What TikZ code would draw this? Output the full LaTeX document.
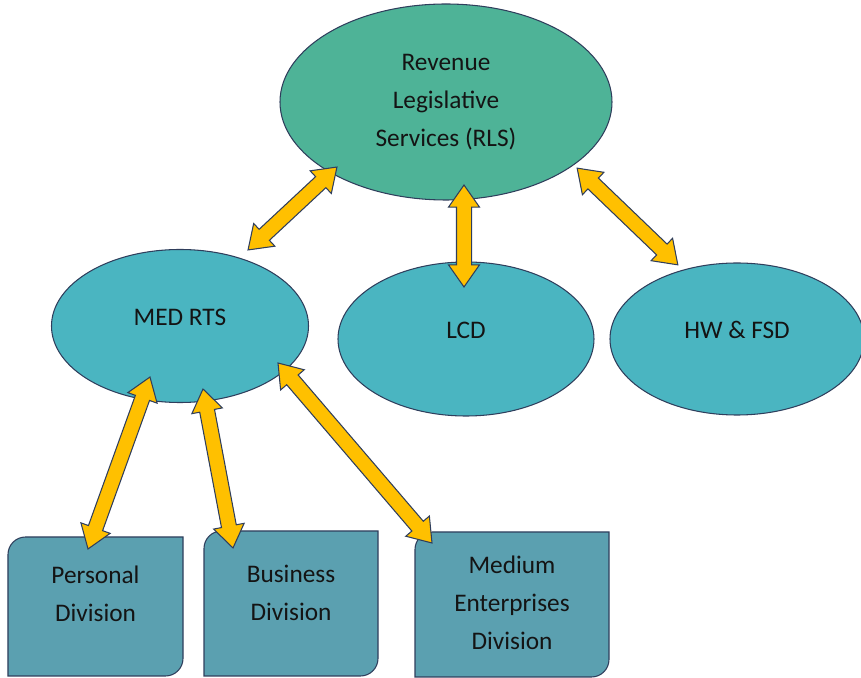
\documentclass[tikz,border=0pt]{standalone}
\usepackage{fontspec}
\setmainfont{Carlito}
\usetikzlibrary{positioning,calc,shapes.geometric,shapes.arrows,backgrounds}

\definecolor{rlsfill}{HTML}{4EB397}
\definecolor{unitfill}{HTML}{4AB5C1}
\definecolor{divfill}{HTML}{5BA0B0}
\definecolor{linkfill}{HTML}{FFC000}
\definecolor{edge}{HTML}{2F3E5C}
\definecolor{ink}{HTML}{141414}

\tikzset{
  unit/.style     = {ellipse, draw=edge, line width=0.6pt, align=center, text=ink},
  lowtext/.style  = {text height=9.5pt, text depth=10pt},
  division/.style = {rectangle, inner sep=0pt, outer sep=0pt},
  divtext/.style  = {align=center, text=ink},
  link/.style     = {double arrow, draw=edge, fill=linkfill, line width=0.6pt, inner xsep=0pt, inner ysep=0.14cm,
                     double arrow head extend=0.16cm, double arrow tip angle=70}
}

\newcommand{\cornerrad}{0.35cm}
% box with two rounded corners (top left, bottom right)
\newcommand{\divoutline}[1]{%
  \filldraw[fill=divfill, draw=edge, line width=0.6pt]
    ([yshift=-\cornerrad]#1.north west) arc[start angle=180, end angle=90, radius=\cornerrad]
    -- (#1.north east) -- ([yshift=\cornerrad]#1.south east)
    arc[start angle=0, end angle=-90, radius=\cornerrad] -- (#1.south west) -- cycle;}
% two headed block arrow between two points
\newcommand{\dblink}[2]{%
  \path let \p1=(#1), \p2=(#2),
            \n1={atan2(\y2-\y1,\x2-\x1)}, \n2={veclen(\x2-\x1,\y2-\y1)} in
    node[link, minimum height=\n2, rotate=\n1] at ($(\p1)!.5!(\p2)$) {};}

\begin{document}
\begin{tikzpicture}[on grid, font=\fontsize{14.4}{21.6}\selectfont]
 \useasboundingbox (0,0) rectangle (17.22,13.56);

 \node[unit,fill=rlsfill, minimum width=6.64cm,minimum height=3.92cm,name=RLS] at (8.92,11.52) {Revenue\\Legislative\\Services (RLS)};
 \node[unit,fill=unitfill,lowtext,minimum width=5.14cm,minimum height=3.06cm,name=MED,below left =4.48cm and 5.32cm of RLS] {MED RTS};
 \node[unit,fill=unitfill,lowtext,minimum width=5.12cm,minimum height=3.08cm,name=LCD,below      =4.74cm of RLS,xshift=0.4cm] {LCD};
 \node[unit,fill=unitfill,lowtext,minimum width=5.08cm,minimum height=3.04cm,name=HWF,below right=4.74cm and 5.82cm of RLS] {HW \& FSD};

 \node[division,minimum width=3.5cm, minimum height=2.78cm,name=PD, below left =5.61cm and 1.69cm of MED,
       label={[divtext,yshift=0.25cm]center:Personal\\Division}] {};
 \node[division,minimum width=3.48cm,minimum height=2.9cm, name=BD, below right=5.55cm and 2.22cm of MED,
       label={[divtext,yshift=0.21cm]center:Business\\Division}] {};
 \node[division,minimum width=3.88cm,minimum height=2.9cm, name=MEB,below right=5.57cm and 6.64cm of MED,
       label={[divtext,yshift=0.03cm]center:Medium\\Enterprises\\Division}] {};

 \begin{scope}[on background layer]
  \foreach \d in {PD,BD,MEB} {\divoutline{\d}}
 \end{scope}

 \dblink{$(RLS)+(-2.18,-1.30)$}{$(MED)+(1.36,1.52)$}
 \dblink{$(RLS)+(0.36,-1.66)$} {$(LCD)+(-0.04,1.04)$}
 \dblink{$(RLS)+(2.62,-1.32)$} {$(HWF)+(-1.18,1.48)$}
 \dblink{$(MED)+(-0.60,-1.02)$}{$(PD)+(-0.15,1.15)$}
 \dblink{$(MED)+(0.46,-1.26)$} {$(BD)+(-1.16,1.11)$}
 \dblink{$(MED)+(1.96,-0.74)$} {$(MEB)+(-1.60,1.23)$}
\end{tikzpicture}
\end{document}
